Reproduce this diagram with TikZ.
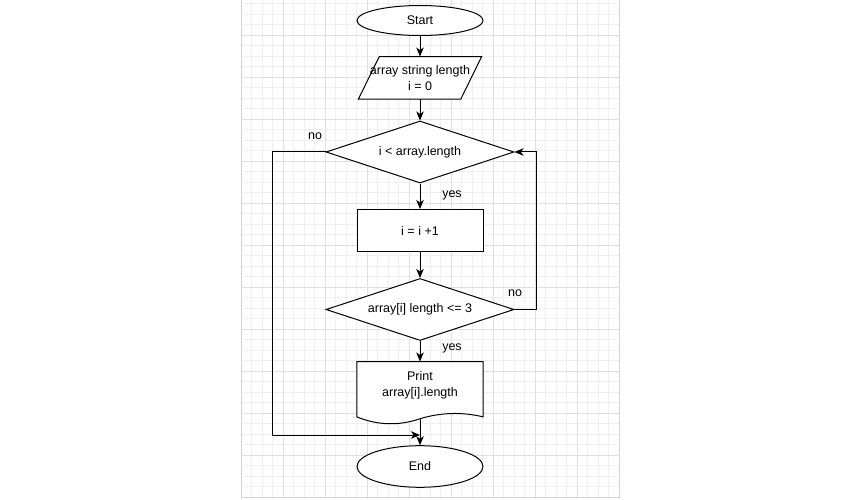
\documentclass[tikz,border=0pt]{standalone}
\usepackage{fontspec}
\setmainfont{Liberation Sans}
\usetikzlibrary{shapes.geometric,arrows.meta,calc}

\begin{document}
\begin{tikzpicture}[x=1pt,y=-1pt,
  minorgrid/.style={draw=black!6,line width=0.8pt},
  majorgrid/.style={draw=black!12,line width=0.8pt},
  gridframe/.style={draw=black!17,line width=1pt},
  txt/.style={font=\fontsize{12.5}{16}\selectfont,align=center,text=black},
  shapeline/.style={draw=black,line width=1pt,fill=white},
  terminal/.style={ellipse,shapeline,txt,minimum width=126pt,inner sep=0pt},
  procbox/.style={rectangle,shapeline,txt,minimum width=126pt,minimum height=42pt,inner sep=0pt},
  decision/.style={diamond,shapeline,txt,aspect=3,minimum width=188pt,minimum height=62pt,inner sep=0pt},
  plainbox/.style={rectangle,txt,inner sep=0pt},
  flow/.style={draw=black,line width=1pt,-{Stealth[length=9pt,width=7.5pt,inset=2.5pt]}},
  lbl/.style={txt}
]
\useasboundingbox (0,0) rectangle (862,500);

% background grid
\foreach \i in {0,...,36} \draw[minorgrid] ({241+10.5*\i},0) -- ({241+10.5*\i},497);
\foreach \j in {1,...,48} \draw[minorgrid] (241,{-7+10.5*\j}) -- (619,{-7+10.5*\j});
\foreach \i in {0,...,9} \draw[majorgrid] ({241+42*\i},0) -- ({241+42*\i},497);
\foreach \j in {1,...,12} \draw[majorgrid] (241,{-7+42*\j}) -- (619,{-7+42*\j});
\draw[gridframe] (241,0) -- (241,497.5) -- (619.5,497.5) -- (619.5,0);

% start
\node[terminal,minimum height=30pt] (start) at (420,20.5) {Start};

% input (parallelogram drawn around a plain text node)
\node[plainbox,minimum width=102pt,minimum height=42.3pt] (input) at (420,77.9) {};
\draw[shapeline] ($(input.north west)+(10.5,0)$) -- ($(input.north east)+(10.5,0)$)
  -- ($(input.south east)+(-10.5,0)$) -- ($(input.south west)+(-10.5,0)$) -- cycle;
\node[txt] at (input.center) {array string length\\i = 0};

% loop condition
\node[decision] (cond1) at (420,152) {i < array.length};

% increment
\node[procbox] (inc) at (420,230.5) {i = i +1};

% length check
\node[decision] (cond2) at (420,309.5) {array[i] length <= 3};

% output document
\node[plainbox,minimum width=126pt,minimum height=46pt] (print) at (420,384.7) {};
\coordinate (printbottom) at ($(print.south)+(0,10.8)$);
\draw[shapeline] (print.north west) -- (print.north east) -- ($(print.south east)+(0,9)$)
  .. controls ($(print.south east)+(-20.9,3.9)$) and ($(print.south)+(21,4.5)$) .. (printbottom)
  .. controls ($(print.south)+(-21,18.1)$) and ($(print.south west)+(21.1,17.5)$) .. ($(print.south west)+(0,9)$)
  -- cycle;
\node[txt] at ($(print.center)+(0,0.8)$) {Print\\array[i].length};

% end
\node[terminal,minimum height=41.6pt] (end) at (420,466.5) {End};

% connectors
\coordinate (merge) at (420,435);
\draw[flow] (start) -- (input);
\draw[flow] (input.south) -- (cond1.north);
\draw[flow] (cond1.south) -- (inc.north);
\draw[flow] (inc.south) -- (cond2.north);
\draw[flow] (cond2.south) -- (print.north);
\draw[flow] (printbottom) -- (end.north);
\draw[flow] (cond1.west) -- ++(-52.7,0) |- (merge);
\draw[flow] (cond2.east) -- ++(22,0) |- (cond1.east);

% branch labels
\node[lbl] (no1) at (315,136) {no};
\node[lbl] (yes1) at (452,195) {yes};
\node[lbl] (no2) at (515,293) {no};
\node[lbl] (yes2) at (452,348) {yes};
\end{tikzpicture}
\end{document}
